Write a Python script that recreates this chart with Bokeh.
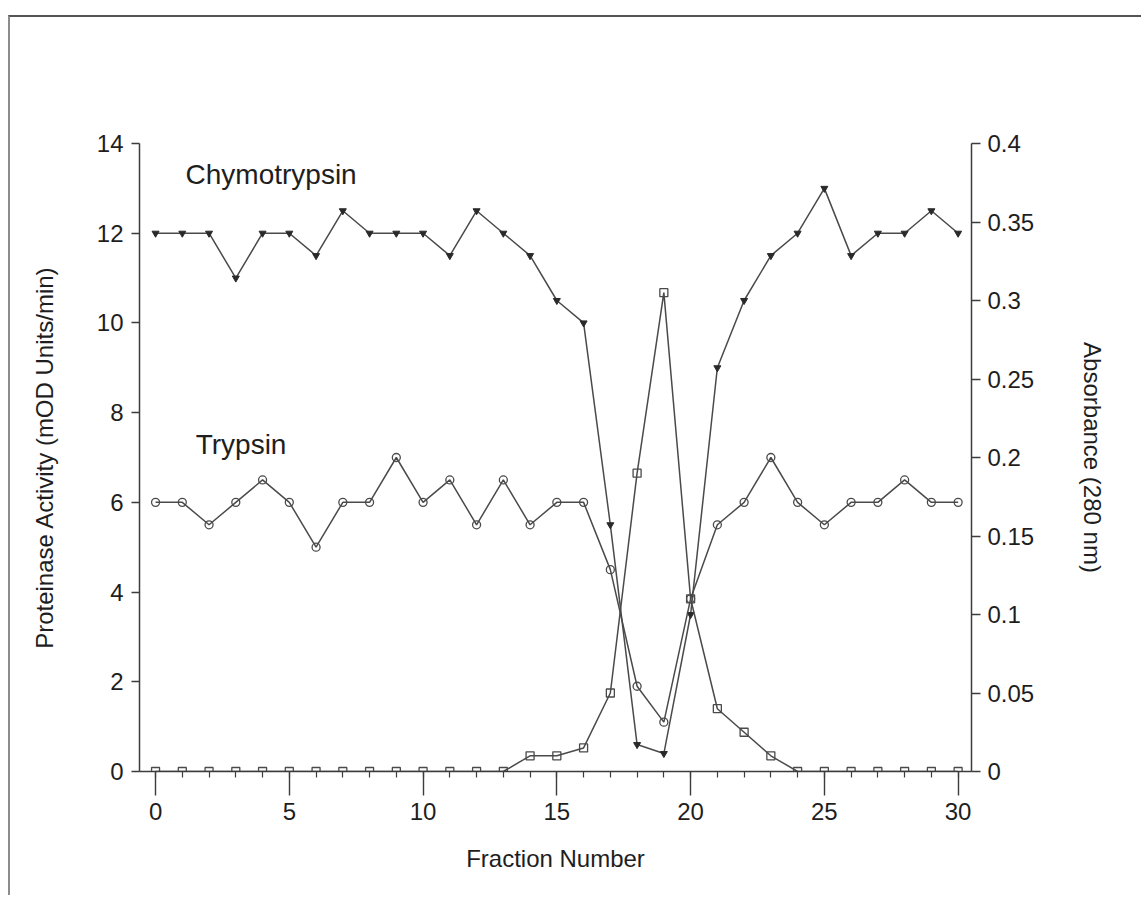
from bokeh.plotting import figure
from bokeh.models import (Range1d, LinearAxis, SingleIntervalTicker, FixedTicker,
                          CustomJSTickFormatter, Label)
from bokeh.embed import file_html
from bokeh.resources import INLINE

fraction = list(range(31))
chymotrypsin = [12, 12, 12, 11, 12, 12, 11.5, 12.5, 12, 12, 12, 11.5, 12.5, 12, 11.5,
                10.5, 10, 5.5, 0.6, 0.4, 3.5, 9, 10.5, 11.5, 12, 13, 11.5, 12, 12, 12.5, 12]
trypsin = [6, 6, 5.5, 6, 6.5, 6, 5, 6, 6, 7, 6, 6.5, 5.5, 6.5, 5.5,
           6, 6, 4.5, 1.9, 1.1, 3.85, 5.5, 6, 7, 6, 5.5, 6, 6, 6.5, 6, 6]
absorbance = [0, 0, 0, 0, 0, 0, 0, 0, 0, 0, 0, 0, 0, 0, 0.01,
              0.01, 0.015, 0.05, 0.19, 0.305, 0.11, 0.04, 0.025, 0.01, 0, 0, 0, 0, 0, 0, 0]
left_ticks = [0, 2, 4, 6, 8, 10, 12, 14]
right_ticks = [0, 0.05, 0.1, 0.15, 0.2, 0.25, 0.3, 0.35, 0.4]

FONT = "Liberation Sans"
AX = "#3c3c3c"
LN = "#4a4a4a"
TXT = "#1e1e1e"

p = figure(width=1133, height=880, x_range=Range1d(-0.6, 30.5), y_range=Range1d(0, 14),
           output_backend="svg", toolbar_location=None,
           min_border_left=129, min_border_right=172, min_border_top=126, min_border_bottom=126,
           margin=(15, 0, 0, 8))
p.styles = {"border-top": "2px solid #555555", "border-left": "2px solid #8c8c8c"}
p.outline_line_color = None
p.grid.visible = False
p.background_fill_color = "white"
p.border_fill_color = "white"

p.extra_y_ranges = {"abs": Range1d(0, 0.4)}

# axes
xa = p.xaxis[0]
xa.ticker = SingleIntervalTicker(interval=5, num_minor_ticks=5)
xa.axis_label = "Fraction Number"
xa.major_tick_out = 24
xa.major_tick_in = 0
xa.minor_tick_out = 6
xa.minor_tick_in = 0
xa.major_label_standoff = 7
xa.axis_label_standoff = 22

ya = p.yaxis[0]
ya.ticker = FixedTicker(ticks=left_ticks)
ya.axis_label = "Proteinase Activity (mOD Units/min)"
ya.major_tick_out = 8
ya.major_tick_in = 0
ya.minor_tick_line_color = None
ya.major_label_standoff = 8
ya.axis_label_standoff = 36

ra = LinearAxis(y_range_name="abs", ticker=FixedTicker(ticks=right_ticks),
                formatter=CustomJSTickFormatter(code="return String(Math.round(tick*100)/100);"),
                axis_label="Absorbance (280 nm)")
ra.major_tick_out = 9
ra.major_tick_in = 0
ra.minor_tick_line_color = None
ra.major_label_standoff = 7
ra.axis_label_standoff = 42
p.add_layout(ra, "right")

for ax in [xa, ya, ra]:
    ax.axis_line_color = AX
    ax.axis_line_width = 1.5
    ax.major_tick_line_color = AX
    ax.major_tick_line_width = 1.4
    ax.minor_tick_line_width = 1.2
    if ax is xa:
        ax.minor_tick_line_color = AX
    ax.major_label_text_font = FONT
    ax.major_label_text_font_size = "24px"
    ax.major_label_text_color = TXT
    ax.axis_label_text_font = FONT
    ax.axis_label_text_font_size = "24px"
    ax.axis_label_text_font_style = "normal"
    ax.axis_label_text_color = TXT

# series
p.line(fraction, chymotrypsin, line_color=LN, line_width=1.5)
p.scatter(fraction, chymotrypsin, marker="inverted_triangle", size=7,
          fill_color="#2a2a2a", line_color="#2a2a2a")

p.line(fraction, trypsin, line_color=LN, line_width=1.5)
p.scatter(fraction, trypsin, marker="circle", size=8, fill_color=None,
          line_color=LN, line_width=1.3)

p.line(fraction, absorbance, line_color=LN, line_width=1.5, y_range_name="abs")
p.scatter(fraction, absorbance, marker="square", size=8, fill_color=None,
          line_color=LN, line_width=1.3, y_range_name="abs")

# series names
p.add_layout(Label(x=1.12, y=13.3, text="Chymotrypsin", text_font=FONT,
                   text_font_size="28px", text_color=TXT, text_baseline="middle"))
p.add_layout(Label(x=1.5, y=7.3, text="Trypsin", text_font=FONT,
                   text_font_size="28px", text_color=TXT, text_baseline="middle"))

open("out.html", "w").write(file_html(p, INLINE))
